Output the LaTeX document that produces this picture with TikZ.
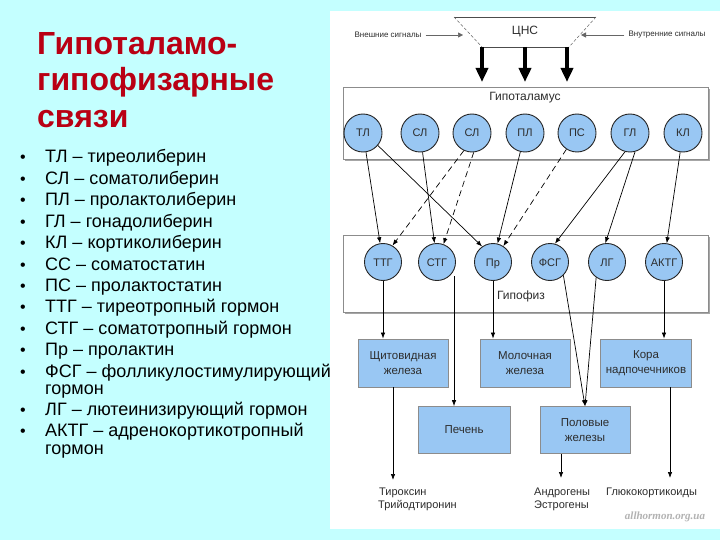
\documentclass[tikz,border=0pt]{standalone}
\usepackage{fontspec}
\setmainfont{Liberation Sans}
\newfontfamily\wmfont{Liberation Serif}
\usetikzlibrary{arrows.meta}
\definecolor{bgcyan}{RGB}{196,255,255}
\definecolor{titlered}{RGB}{185,0,20}
\definecolor{nodeblue}{RGB}{153,199,243}
\definecolor{boxgray}{RGB}{140,140,140}
\definecolor{dtext}{RGB}{45,45,45}
\begin{document}
\begin{tikzpicture}[x=1pt,y=-1pt,
  ttl/.style={anchor=base west,inner sep=0pt,text=titlered,font=\bfseries\fontsize{32}{36}\selectfont},
  leg/.style={anchor=base west,inner sep=0pt,font=\fontsize{18}{20}\selectfont},
  bul/.style={anchor=base,inner sep=0pt,font=\fontsize{16}{20}\selectfont},
  circ/.style={circle,draw=black!85,line width=0.9pt,fill=nodeblue,minimum size=38pt,inner sep=0pt,text=dtext,text height=8pt,text depth=0pt,font=\fontsize{11}{13}\selectfont},
  gland/.style={rectangle,draw=boxgray,line width=0.8pt,fill=nodeblue,minimum width=90pt,minimum height=48pt,inner sep=0pt,align=center,text=dtext,font=\fontsize{11.5}{14.5}\selectfont},
  panel/.style={rectangle,draw=boxgray,line width=0.9pt,fill=white,inner sep=0pt,anchor=north west},
  lbl/.style={inner sep=0pt,text=dtext,font=\fontsize{12}{14}\selectfont},
  small/.style={inner sep=0pt,text=dtext,font=\fontsize{8}{9}\selectfont},
  outl/.style={anchor=base west,inner sep=0pt,text=dtext,font=\fontsize{11}{13}\selectfont},
  conn/.style={-{Latex[length=6pt,width=4.5pt]},line width=0.7pt,black},
  dconn/.style={conn,dash pattern=on 6pt off 4pt},
  big/.style={-{Triangle[length=14pt,width=12pt]},line width=3.8pt,black}
]
\useasboundingbox (0,0) rectangle (720,540);
\fill[bgcyan] (0,0) rectangle (720,540);
\fill[white] (330,11) rectangle (720,529);

% title
\node[ttl] (t1) at (37,55) {Гипоталамо-};
\node[ttl] (t2) at (37,91) {гипофизарные};
\node[ttl] (t3) at (37,128) {связи};

% legend
\foreach \i/\yy/\txt in {1/163/{ТЛ – тиреолиберин},2/184.4/{СЛ – соматолиберин},3/205.8/{ПЛ – пролактолиберин},4/227.2/{ГЛ – гонадолиберин},5/248.6/{КЛ – кортиколиберин},6/270/{СС – соматостатин},7/291.4/{ПС – пролактостатин},8/312.8/{ТТГ – тиреотропный гормон},9/334.2/{СТГ – соматотропный гормон},10/355.6/{Пр – пролактин},11/377/{ФСГ – фолликулостимулирующий},12/415.4/{ЛГ – лютеинизирующий гормон},13/436.8/{АКТГ – адренокортикотропный}}{
  \node[bul] (b\i) at (23,\yy) {•};
  \node[leg] (l\i) at (45,\yy) {\txt};
}
\node[leg] (l11b) at (45,394) {гормон};
\node[leg] (l13b) at (45,454) {гормон};

% CNS
\coordinate (cA) at (454,17);
\coordinate (cB) at (596,17);
\coordinate (c1) at (482,47);
\coordinate (c2) at (525,47);
\coordinate (c3) at (569,47);
\draw[black!70,line width=0.6pt] (cA) -- (cB) (c1) -- (c3);
\draw[black!60,line width=0.5pt,dash pattern=on 3pt off 2pt] (cA) -- (c1) (cB) -- (c3);
\node[lbl] (cns) at (525,32) {ЦНС};
\node[small] (ext) at (388,35) {Внешние сигналы};
\node[small] (int) at (667,35) {Внутренние сигналы};
\coordinate (extT) at (463,35);
\coordinate (intT) at (581,35);
\draw[black!60,line width=0.5pt,-{Triangle[length=5pt,width=5pt]}] (ext.east) ++(4,0) -- (extT);
\draw[black!60,line width=0.5pt,-{Triangle[length=5pt,width=5pt]}] (int.west) ++(-4,0) -- (intT);

% hypothalamus
\fill[black!35] (345,89) rectangle (710,161);
\node[panel,minimum width=365pt,minimum height=72pt] (hyp) at (343,87) {};
\node[lbl] (hyplbl) at (525,98) {Гипоталамус};
\foreach \n/\xx/\t in {tl/363/ТЛ,sl1/420/СЛ,sl2/472/СЛ,pl/525/ПЛ,ps/577/ПС,gl/630/ГЛ,kl/683/КЛ}{
  \node[circ] (\n) at (\xx,133) {\t};
}
\draw[big] (c1) -- ([yshift=5pt]c1 |- hyp.north);
\draw[big] (c2) -- ([yshift=5pt]c2 |- hyp.north);
\draw[big] ([xshift=-2pt]c3) -- ([xshift=-2pt,yshift=5pt]c3 |- hyp.north);

% hypophysis
\fill[black!35] (345,237) rectangle (710,314);
\node[panel,minimum width=365pt,minimum height=77pt] (pit) at (343,235) {};
\node[lbl] (pitlbl) at (521,296) {Гипофиз};
\foreach \n/\xx/\t in {ttg/383/ТТГ,stg/437/СТГ,pr/493/Пр,fsg/550/ФСГ,lg/607/ЛГ,aktg/664/АКТГ}{
  \node[circ,minimum size=37pt] (\n) at (\xx,262) {\t};
}

% hypothalamus -> hypophysis
\draw[conn] (tl) -- (ttg);
\draw[conn] (tl.-40) -- (pr.125);
\draw[conn] (sl1) -- (stg);
\draw[dconn] (sl2.245) -- (ttg.60);
\draw[dconn] (sl2.275) -- (stg.70);
\draw[conn] (pl) -- (pr);
\draw[dconn] (ps) -- (pr);
\draw[conn] (gl.255) -- (fsg.75);
\draw[conn] (gl.285) -- (lg.95);
\draw[conn] (kl) -- (aktg);

% glands
\node[gland] (shch) at (403,363) {Щитовидная\\железа};
\node[gland] (mol) at (525,363) {Молочная\\железа};
\node[gland,minimum width=91pt] (kora) at (646,363) {Кора\\надпочечников};
\node[gland,minimum width=92pt,minimum height=47pt] (pech) at (464,430) {Печень};
\node[gland,minimum height=47pt] (pol) at (585,430) {Половые\\железы};

\draw[conn] (ttg) -- (ttg |- shch.north);
\coordinate (stgx) at (454,276);
\draw[conn] (stgx) -- (stgx |- pech.north);
\draw[conn] (pr) -- (pr |- mol.north);
\draw[conn] (aktg) -- (aktg |- kora.north);
\draw[conn] (fsg.-45) -- (pol.north);
\draw[conn] (lg.-125) -- (pol.north);

% outputs
\coordinate (o1) at (393,480);
\coordinate (o2) at (561,478);
\coordinate (o3) at (670,478);
\draw[conn] (o1 |- shch.south) -- (o1);
\draw[conn] (o2 |- pol.south) -- (o2);
\draw[conn] (o3 |- kora.south) -- (o3);
\node[outl] (tx1) at (379,495) {Тироксин};
\node[outl] (tx2) at (378,508) {Трийодтиронин};
\node[outl] (an1) at (534,495) {Андрогены};
\node[outl] (an2) at (534,508) {Эстрогены};
\node[outl] (gk) at (606,495) {Глюкокортикоиды};
\node[inner sep=0pt,text=black!30,font=\wmfont\bfseries\itshape\fontsize{11}{13}\selectfont] (wm) at (665,517) {allhormon.org.ua};
\end{tikzpicture}
\end{document}
